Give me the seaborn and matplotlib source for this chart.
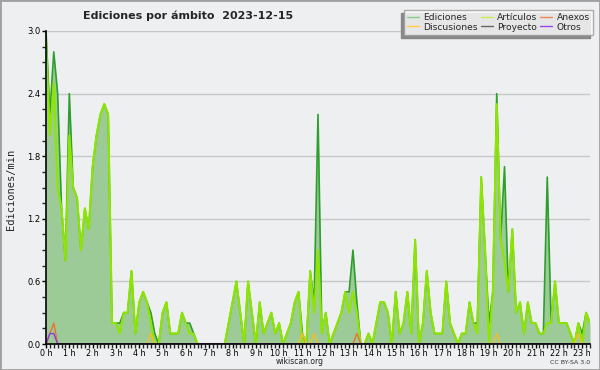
import numpy as np
import pandas as pd
import matplotlib
matplotlib.use('Agg')
import matplotlib.pyplot as plt
import seaborn as sns
from matplotlib.patches import Rectangle
from matplotlib.lines import Line2D
from matplotlib.ticker import MultipleLocator, FixedLocator

# Ediciones por minuto, tramos de 10 minutos (0h00 .. 23h20)
ediciones = [3.0, 2.2, 2.8, 2.4, 1.3, 0.8, 2.4, 1.5, 1.4, 0.9,
             1.3, 1.1, 1.7, 2.0, 2.2, 2.3, 2.2, 0.2, 0.2, 0.2,
             0.3, 0.3, 0.7, 0.1, 0.4, 0.5, 0.4, 0.3, 0.1, 0.0,
             0.3, 0.4, 0.1, 0.1, 0.1, 0.3, 0.2, 0.2, 0.1, 0.0,
             0.0, 0.0, 0.0, 0.0, 0.0, 0.0, 0.0, 0.2, 0.4, 0.6,
             0.3, 0.0, 0.6, 0.3, 0.0, 0.4, 0.1, 0.2, 0.3, 0.1,
             0.2, 0.0, 0.1, 0.2, 0.4, 0.5, 0.1, 0.0, 0.7, 0.4,
             2.2, 0.1, 0.3, 0.0, 0.1, 0.2, 0.3, 0.5, 0.5, 0.9,
             0.4, 0.0, 0.0, 0.1, 0.0, 0.2, 0.4, 0.4, 0.3, 0.0,
             0.5, 0.1, 0.2, 0.5, 0.1, 1.0, 0.0, 0.2, 0.7, 0.3,
             0.1, 0.1, 0.1, 0.6, 0.2, 0.1, 0.0, 0.1, 0.1, 0.4,
             0.2, 0.2, 1.6, 0.9, 0.2, 0.5, 2.4, 1.0, 1.7, 0.5,
             1.1, 0.3, 0.4, 0.1, 0.4, 0.2, 0.2, 0.1, 0.1, 1.6,
             0.2, 0.6, 0.2, 0.2, 0.2, 0.1, 0.0, 0.2, 0.1, 0.3, 0.2]

articulos = [2.9, 2.0, 2.5, 1.5, 1.3, 0.8, 2.0, 1.5, 1.4, 0.9,
             1.3, 1.1, 1.7, 2.0, 2.2, 2.3, 2.2, 0.2, 0.2, 0.1,
             0.3, 0.3, 0.7, 0.1, 0.4, 0.5, 0.4, 0.2, 0.0, 0.0,
             0.3, 0.4, 0.1, 0.1, 0.1, 0.3, 0.2, 0.1, 0.1, 0.0,
             0.0, 0.0, 0.0, 0.0, 0.0, 0.0, 0.0, 0.2, 0.4, 0.6,
             0.3, 0.0, 0.6, 0.3, 0.0, 0.4, 0.1, 0.2, 0.3, 0.1,
             0.2, 0.0, 0.1, 0.2, 0.4, 0.5, 0.0, 0.0, 0.7, 0.3,
             0.9, 0.1, 0.3, 0.0, 0.1, 0.2, 0.3, 0.5, 0.3, 0.5,
             0.3, 0.0, 0.0, 0.1, 0.0, 0.2, 0.4, 0.4, 0.3, 0.0,
             0.5, 0.1, 0.2, 0.5, 0.1, 1.0, 0.0, 0.2, 0.7, 0.3,
             0.1, 0.1, 0.1, 0.6, 0.2, 0.1, 0.0, 0.1, 0.1, 0.4,
             0.2, 0.1, 1.6, 0.9, 0.0, 0.5, 2.3, 1.0, 0.8, 0.5,
             1.1, 0.3, 0.4, 0.1, 0.4, 0.2, 0.2, 0.1, 0.1, 0.2,
             0.2, 0.6, 0.2, 0.2, 0.2, 0.1, 0.0, 0.2, 0.0, 0.3, 0.2]

# series pequeñas: posicion del tramo y valor
anexos_idx = [1, 2, 80]
anexos_val = [0.1, 0.2, 0.1]
discusiones_idx = [27, 66, 69, 116, 137]
discusiones_val = [0.1, 0.1, 0.1, 0.1, 0.1]
otros_idx = [1, 2]
otros_val = [0.1, 0.1]
proyecto_idx = []
proyecto_val = []

horas_labels = [f"{h} h" for h in range(24)]

n = len(ediciones)
horas = np.arange(n) / 6.0


def serie(idx, val):
    s = np.zeros(n)
    s[idx] = val
    return s


df = pd.DataFrame({
    'hora': horas,
    'Ediciones': ediciones,
    'Artículos': articulos,
    'Anexos': serie(anexos_idx, anexos_val),
    'Discusiones': serie(discusiones_idx, discusiones_val),
    'Proyecto': serie(proyecto_idx, proyecto_val),
    'Otros': serie(otros_idx, otros_val),
})

sns.set_style('white')
plt.rcParams['font.family'] = ['DejaVu Sans']

bg = '#eeeff0'
fig = plt.figure(figsize=(6, 3.7), dpi=100, facecolor=bg)
ax = fig.add_axes([46 / 600, 26 / 370, 544 / 600, 313 / 370])
ax.set_facecolor(bg)

ax.fill_between(df['hora'], df['Ediciones'], color='#9ccb98', lw=0, zorder=1)
sns.lineplot(data=df, x='hora', y='Ediciones', color='#2e9e2e', lw=1.2, ax=ax, zorder=3)
sns.lineplot(data=df, x='hora', y='Artículos', color='#8ee600', lw=1.5, ax=ax, zorder=4)
sns.lineplot(data=df, x='hora', y='Discusiones', color='#f2c024', lw=1.0, ax=ax, zorder=5)
sns.lineplot(data=df, x='hora', y='Anexos', color='#ee7030', lw=1.0, ax=ax, zorder=6)
sns.lineplot(data=df, x='hora', y='Otros', color='#8a3be8', lw=1.0, ax=ax, zorder=7)

ax.set_xlim(0, (n - 1) / 6)
ax.set_ylim(0, 3.0)

# ejes
for lado in ['top', 'right']:
    ax.spines[lado].set_visible(False)
for lado in ['left', 'bottom']:
    ax.spines[lado].set_color('black')
    ax.spines[lado].set_linewidth(1.2)
    ax.spines[lado].set_zorder(10)

ax.yaxis.set_major_locator(FixedLocator([0, 0.6, 1.2, 1.8, 2.4, 3.0]))
ax.yaxis.set_minor_locator(MultipleLocator(0.15))
ax.set_yticklabels(['0.0', '0.6', '1.2', '1.8', '2.4', '3.0'])
ax.xaxis.set_major_locator(FixedLocator(range(24)))
ax.xaxis.set_minor_locator(MultipleLocator(1 / 6))
ax.set_xticklabels(horas_labels)
ax.tick_params(axis='both', which='major', direction='out', length=3, width=1,
               labelsize=6, colors='black', pad=1)
ax.tick_params(axis='x', which='major', labelsize=5.8, pad=0.5)
ax.tick_params(axis='both', which='minor', direction='out', length=3, width=1)
ax.tick_params(axis='both', which='both', bottom=True, left=True)
ax.grid(axis='y', color='#c8c8c8', lw=1, zorder=0)
ax.set_axisbelow(True)

ax.set_xlabel('')
ax.set_ylabel('')
fig.text(0.018, 0.489, 'Ediciones/min', family='DejaVu Sans Mono', fontsize=7.5,
         rotation=90, ha='center', va='center')

fig.text(0.313, 0.958, 'Ediciones por ámbito  2023-12-15', fontsize=8,
         fontweight='bold', ha='center', va='center')
fig.text(0.5, 0.022, 'wikiscan.org', fontsize=5.5, ha='center', va='center', color='#222222')
fig.text(0.983, 0.021, 'CC BY-SA 3.0', fontsize=4.5, ha='right', va='center', color='#333333')

# leyenda
nombres = ['Ediciones', 'Discusiones', 'Artículos', 'Proyecto', 'Anexos', 'Otros']
colores = ['#88cc88', '#ffcc44', '#ccee55', '#666666', '#ee8855', '#9944ee']
handles = [Line2D([], [], color=c, lw=1) for c in colores]
leg = fig.legend(handles, nombres, ncol=3, loc='upper right',
                 bbox_to_anchor=(593 / 600, 1 - 10 / 370), fontsize=6.6,
                 frameon=True, fancybox=False, edgecolor='#999999',
                 handlelength=1.3, handletextpad=0.5, columnspacing=0.3,
                 labelspacing=0.05, borderpad=0.35, borderaxespad=0)
leg.get_frame().set_linewidth(1)
leg.get_frame().set_facecolor('white')
leg.set_zorder(20)

fig.canvas.draw()
bb = leg.get_window_extent().transformed(fig.transFigure.inverted())
sombra = Rectangle((bb.x0 - 3 / 600, bb.y0 - 3 / 370), bb.width, bb.height,
                   transform=fig.transFigure, color='#888888', zorder=19)
fig.patches.append(sombra)

fig.patches.append(Rectangle((0, 0), 1, 1, transform=fig.transFigure, fill=False,
                             ec='#a0a0a0', lw=2, zorder=30))

fig.savefig('out.png', dpi=100, facecolor=bg)
